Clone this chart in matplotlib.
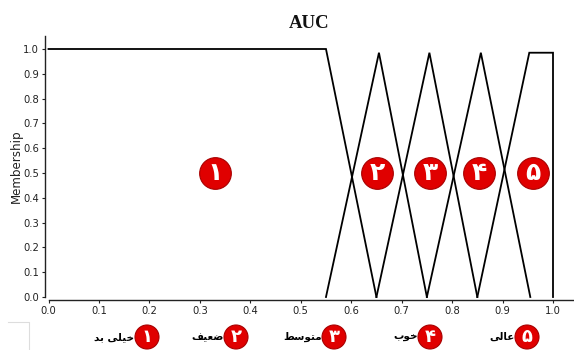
import matplotlib
matplotlib.use("Agg")
import matplotlib.pyplot as plt
from matplotlib.lines import Line2D
from matplotlib.patches import Circle

W, H = 574, 350
title = "AUC"
ylabel = "Membership"
x_ticks = [0.0, 0.1, 0.2, 0.3, 0.4, 0.5, 0.6, 0.7, 0.8, 0.9, 1.0]
y_ticks = [0.0, 0.1, 0.2, 0.3, 0.4, 0.5, 0.6, 0.7, 0.8, 0.9, 1.0]

class1_x = [0.0, 0.55, 0.65]
class1_y = [1.0, 1.0, 0.0]
class2_x = [0.55, 0.655, 0.75]
class2_y = [0.0, 0.985, 0.0]
class3_x = [0.65, 0.755, 0.85]
class3_y = [0.0, 0.985, 0.0]
class4_x = [0.75, 0.857, 0.955]
class4_y = [0.0, 0.985, 0.0]
class5_x = [0.85, 0.953, 1.0, 1.0]
class5_y = [0.0, 0.985, 0.985, 0.0]

digits = ["\u06F1", "\u06F2", "\u06F3", "\u06F4", "\u06F5"]
badge_x = [0.33, 0.652, 0.757, 0.854, 0.96]
badge_y = [0.5, 0.5, 0.5, 0.5, 0.5]

# Persian class names, in shaped presentation forms and visual order
# (khayli bad, za'if, motavasset, khub, 'ali)
names = [
    "\uFEAA\uFE91 \uFBFD\uFEE0\uFBFF\uFEA7",
    "\uFED2\uFBFF\uFECC\uFEBF",
    "\uFEC2\uFEB3\uFEEE\uFE98\uFEE3",
    "\uFE8F\uFEEE\uFEA7",
    "\uFBFD\uFEDF\uFE8E\uFECB",
]
legend_px = [147, 236, 334, 430, 527]

plt.rcParams["font.family"] = ["DejaVu Sans"]
fig = plt.figure(figsize=(W / 100, H / 100), dpi=100, facecolor="white")

# data x: 0 -> px 48.5, 1 -> px 553; data y: 0 -> py 297, 1 -> py 49
left, right, top, bottom = 48.5, 574, 36, 297
ax = fig.add_axes([left / W, 1 - bottom / H, (right - left) / W, (bottom - top) / H])
ax.set_xlim(0, (right - left) / 504.5)
ax.set_ylim(0, (bottom - top) / 248)

for xs, ys in [(class1_x, class1_y), (class2_x, class2_y), (class3_x, class3_y),
               (class4_x, class4_y), (class5_x, class5_y)]:
    ax.plot(xs, ys, color="#000000", lw=1.3, clip_on=False, solid_joinstyle="miter", zorder=2)

for s in ("top", "right"):
    ax.spines[s].set_visible(False)
ax.spines["left"].set_position(("outward", 2.2))
ax.spines["bottom"].set_position(("outward", 2.2))
for s in ("left", "bottom"):
    ax.spines[s].set_linewidth(1.0)
    ax.spines[s].set_color("#222222")
ax.set_xticks(x_ticks)
ax.set_yticks(y_ticks)
ax.set_xticklabels([f"{t:.1f}" for t in x_ticks])
ax.set_yticklabels([f"{t:.1f}" for t in y_ticks])
ax.tick_params(axis="both", labelsize=7.2, length=2, width=0.8, pad=2.5, colors="#222222")
ax.set_ylabel(ylabel, fontsize=8.6, color="#222222")
ax.yaxis.set_label_coords(-0.0485, 0.5)

fig.text(309.5 / W, 1 - 23 / H, title, ha="center", va="center",
         family="Liberation Serif", weight="bold", fontsize=13.5, color="#111111")

ax.scatter(badge_x, badge_y, s=520, color="#E00000", edgecolor="#A80000",
           linewidth=0.8, zorder=3, clip_on=False)
for x, y, d in zip(badge_x, badge_y, digits):
    ax.text(x, y, d, ha="center", va="center", color="white", fontsize=18,
            weight="bold", zorder=4)

ov = fig.add_axes([0, 0, 1, 1], facecolor="none")
ov.set_xlim(0, W)
ov.set_ylim(H, 0)
ov.axis("off")
for px, d, n in zip(legend_px, digits, names):
    ov.add_patch(Circle((px, 337), 12, facecolor="#E00000", edgecolor="#A80000", lw=0.8))
    ov.text(px, 337, d, ha="center", va="center", color="white", fontsize=13, weight="bold")
    ov.text(px - 12.5, 337, n, ha="right", va="center", color="#000000", fontsize=7.5, weight="bold")
ov.add_line(Line2D([8, 29, 29], [322, 322, 350], color="#DDDDDD", lw=0.8))

fig.savefig("out.png", dpi=100, facecolor="white")
